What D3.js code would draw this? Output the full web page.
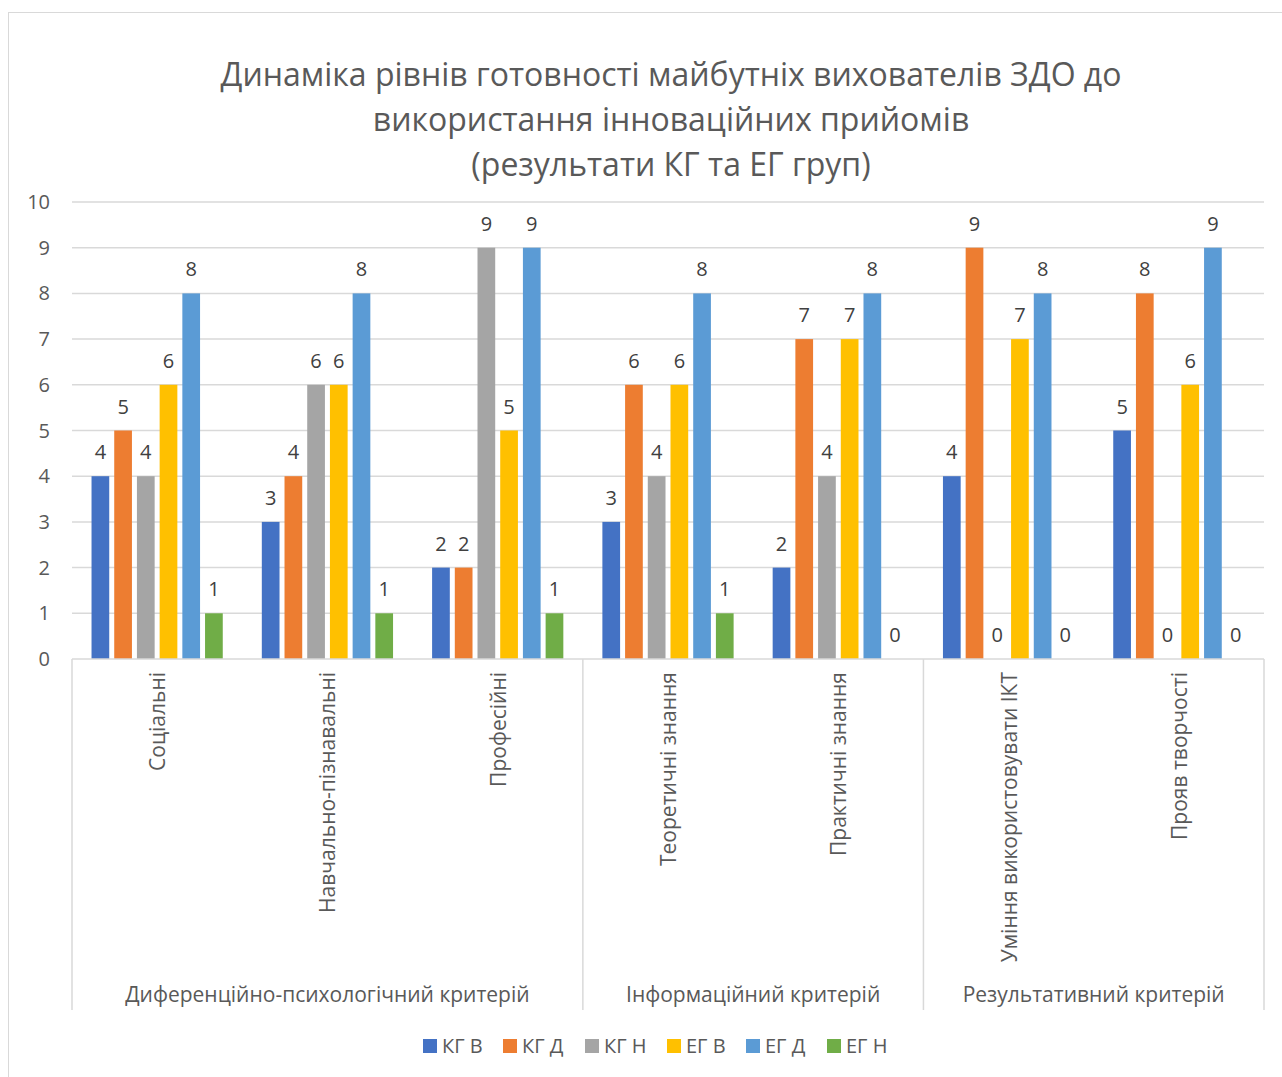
<!DOCTYPE html>
<html lang="uk">
<head>
  <meta charset="UTF-8">
  <style>
    body { margin: 0; background: #fff; }
    svg text { font-family: "Open Sans", "Noto Sans", sans-serif; }
  </style>
</head>
<body>
  <svg class="chart"></svg>
  <script src="https://cdnjs.cloudflare.com/ajax/libs/d3/7.8.5/d3.min.js"></script>
  <script>
    const categories = ['Соціальні', 'Навчально-пізнавальні', 'Професійні',
      'Теоретичні знання', 'Практичні знання',
      'Уміння використовувати ІКТ', 'Прояв творчості']
    const groups = [
      { name: 'Диференційно-психологічний критерій', size: 3 },
      { name: 'Інформаційний критерій', size: 2 },
      { name: 'Результативний критерій', size: 2 }
    ]
    const series = ['КГ В', 'КГ Д', 'КГ Н', 'ЕГ В', 'ЕГ Д', 'ЕГ Н']
    const colors = ['#4472C4', '#ED7D31', '#A5A5A5', '#FFC000', '#5B9BD5', '#70AD47']
    // values per category, in series order
    const kgV = [4, 3, 2, 3, 2, 4, 5]
    const kgD = [5, 4, 2, 6, 7, 9, 8]
    const kgN = [4, 6, 9, 4, 4, 0, 0]
    const egV = [6, 6, 5, 6, 7, 7, 6]
    const egD = [8, 8, 9, 8, 8, 8, 9]
    const egN = [1, 1, 1, 1, 0, 0, 0]
    const yTicks = [0, 1, 2, 3, 4, 5, 6, 7, 8, 9, 10]
    const titleLines = ['Динаміка рівнів готовності майбутніх вихователів ЗДО до',
      'використання інноваційних прийомів', '(результати КГ та ЕГ груп)']

    const allSeries = [kgV, kgD, kgN, egV, egD, egN]
    const chart = { width: 1282, height: 1077 }
    const plot = { left: 72, right: 1264, top: 202, bottom: 659 }

    const svg = d3.select('.chart')
      .attr('width', chart.width)
      .attr('height', chart.height)

    // outer frame
    svg.append('rect')
      .attr('x', 8.5).attr('y', 12.5)
      .attr('width', 1300).attr('height', 1100)
      .attr('fill', '#fff').attr('stroke', '#d9d9d9')

    // title
    svg.append('g').selectAll('text')
      .data(titleLines)
      .join('text')
        .attr('x', 671)
        .attr('y', (d, i) => 86 + i * 45)
        .attr('text-anchor', 'middle')
        .attr('font-size', 32)
        .attr('fill', '#595959')
        .text(d => d)

    const y = d3.scaleLinear().domain([0, 10]).range([plot.bottom, plot.top])
    const x0 = d3.scaleBand().domain(categories).range([plot.left, plot.right])
    const cluster = x0.bandwidth() * 0.8
    const x1 = d3.scaleBand().domain(series)
      .range([-cluster / 2, cluster / 2])
      .paddingInner(0.22).paddingOuter(0.11)

    // gridlines
    svg.append('g').selectAll('line')
      .data(yTicks.slice(1))
      .join('line')
        .attr('x1', plot.left).attr('x2', plot.right)
        .attr('y1', d => y(d)).attr('y2', d => y(d))
        .attr('stroke', '#d9d9d9').attr('stroke-width', 1.5)

    // y labels
    svg.append('g').selectAll('text')
      .data(yTicks)
      .join('text')
        .attr('x', 50)
        .attr('y', d => y(d) + 7)
        .attr('text-anchor', 'end')
        .attr('font-size', 20)
        .attr('fill', '#595959')
        .text(d => d)

    // bars
    const catG = svg.append('g').selectAll('g')
      .data(categories)
      .join('g')
        .attr('transform', d => `translate(${x0(d) + x0.bandwidth() / 2},0)`)

    catG.selectAll('rect')
      .data((c, ci) => series.map((s, si) => ({ s, si, v: allSeries[si][ci] })))
      .join('rect')
        .attr('x', d => x1(d.s))
        .attr('width', x1.bandwidth())
        .attr('y', d => y(d.v))
        .attr('height', d => y(0) - y(d.v))
        .attr('fill', d => colors[d.si])

    catG.selectAll('text.val')
      .data((c, ci) => series.map((s, si) => ({ s, si, v: allSeries[si][ci] })))
      .join('text')
        .attr('class', 'val')
        .attr('x', d => x1(d.s) + x1.bandwidth() / 2)
        .attr('y', d => y(d.v) - 17)
        .attr('text-anchor', 'middle')
        .attr('font-size', 20)
        .attr('fill', '#404040')
        .text(d => d.v)

    // category axis
    svg.append('line')
      .attr('x1', plot.left).attr('x2', plot.right)
      .attr('y1', plot.bottom).attr('y2', plot.bottom)
      .attr('stroke', '#d9d9d9').attr('stroke-width', 1.5)

    catG.append('text')
      .attr('transform', 'translate(8,672) rotate(-90)')
      .attr('text-anchor', 'end')
      .attr('font-size', 21)
      .attr('fill', '#595959')
      .text(d => d)

    // group separators and labels
    let idx = 0
    const bounds = [plot.left]
    groups.forEach(g => {
      const start = x0(categories[idx])
      idx += g.size
      const end = idx < categories.length ? x0(categories[idx]) : plot.right
      bounds.push(end)
      svg.append('text')
        .attr('x', (start + end) / 2)
        .attr('y', 1002)
        .attr('text-anchor', 'middle')
        .attr('font-size', 21)
        .attr('fill', '#595959')
        .text(g.name)
    })
    svg.append('g').selectAll('line')
      .data(bounds)
      .join('line')
        .attr('x1', d => d).attr('x2', d => d)
        .attr('y1', plot.bottom).attr('y2', 1010)
        .attr('stroke', '#d9d9d9').attr('stroke-width', 1.5)

    // legend
    const legendX = [423, 503, 585, 667, 746, 827]
    const leg = svg.append('g').selectAll('g')
      .data(series)
      .join('g')
        .attr('transform', (d, i) => `translate(${legendX[i]},1039)`)
    leg.append('rect')
      .attr('width', 14).attr('height', 14)
      .attr('fill', (d, i) => colors[i])
    leg.append('text')
      .attr('x', 19).attr('y', 14)
      .attr('font-size', 20)
      .attr('fill', '#595959')
      .text(d => d)
  </script>
</body>
</html>
